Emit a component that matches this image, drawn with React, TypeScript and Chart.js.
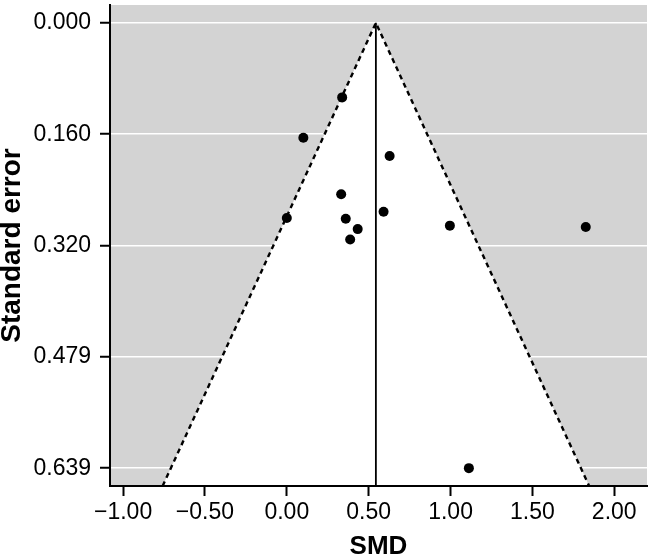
import React, { useEffect, useRef } from "react";
import { Chart, registerables } from "chart.js";

Chart.register(...registerables);

// Study data (standardised mean difference and its standard error)
const smd = [0.338, 0.101, 0.628, 0.332, 0.591, 0.0, 0.36, 0.433, 0.387, 0.996, 1.826, 1.112];
const se = [0.107, 0.165, 0.191, 0.246, 0.271, 0.28, 0.281, 0.296, 0.311, 0.291, 0.293, 0.639];

// Pooled estimate (vertical line) and funnel multiplier
const pooledSMD = 0.544;
const zCrit = 1.96;

// Axes
const xTicks = [-1, -0.5, 0, 0.5, 1, 1.5, 2];
const xTickLabels = ["\u22121.00", "\u22120.50", "0.00", "0.50", "1.00", "1.50", "2.00"];
const yTicks = [0, 0.15975, 0.3195, 0.47925, 0.639];
const yTickLabels = ["0.000", "0.160", "0.320", "0.479", "0.639"];
const xMin = -1.08;
const xMax = 2.2;
const yMin = -0.0256;
const yMax = 0.6646;

const FONT = "'Liberation Sans', Arial, Helvetica, sans-serif";

const bgPlugin = {
  id: "grayBg",
  beforeDraw(chart: any) {
    const { ctx, chartArea } = chart;
    if (!chartArea) return;
    const { left, top, right, bottom } = chartArea;
    ctx.save();
    ctx.fillStyle = "#d3d3d3";
    ctx.fillRect(left, top, right - left, bottom - top);
    ctx.restore();
  },
};

export default function App() {
  const canvasRef = useRef<HTMLCanvasElement | null>(null);

  useEffect(() => {
    const canvas = canvasRef.current;
    if (!canvas) return;

    const points = smd.map((x, i) => ({ x, y: se[i] }));
    const funnel = [
      { x: pooledSMD - zCrit * yMax, y: yMax },
      { x: pooledSMD, y: 0 },
      { x: pooledSMD + zCrit * yMax, y: yMax },
    ];
    const estLine = [
      { x: pooledSMD, y: 0 },
      { x: pooledSMD, y: yMax },
    ];

    const chart = new Chart(canvas, {
      type: "scatter",
      data: {
        datasets: [
          {
            label: "studies",
            data: points,
            backgroundColor: "#000",
            borderWidth: 0,
            pointRadius: 5,
            order: 0,
          },
          {
            label: "estimate",
            data: estLine,
            showLine: true,
            borderColor: "#000",
            borderWidth: 1.8,
            pointRadius: 0,
            order: 1,
          },
          {
            label: "funnel",
            data: funnel,
            showLine: true,
            borderColor: "#000",
            borderWidth: 2.4,
            borderDash: [5, 4],
            pointRadius: 0,
            fill: "start",
            backgroundColor: "#ffffff",
            tension: 0,
            order: 2,
          } as any,
        ],
      },
      options: {
        animation: false,
        responsive: true,
        maintainAspectRatio: false,
        layout: { padding: { top: -1, right: 2, left: 0, bottom: 0 } },
        plugins: {
          legend: { display: false },
          tooltip: { enabled: false },
        },
        scales: {
          x: {
            type: "linear",
            position: "bottom",
            min: xMin,
            max: xMax,
            afterBuildTicks: (s: any) => {
              s.ticks = xTicks.map((v) => ({ value: v }));
            },
            afterFit: (s: any) => {
              s.height = 71;
              s.paddingLeft = 0;
              s.paddingRight = 0;
            },
            ticks: {
              callback: (_v: any, i: number) => xTickLabels[i],
              color: "#000",
              font: { family: FONT, size: 23 },
              padding: 3,
              autoSkip: false,
              maxRotation: 0,
              minRotation: 0,
            },
            grid: {
              drawOnChartArea: false,
              drawTicks: true,
              tickLength: 10,
              tickColor: "#000",
              tickWidth: 2,
            },
            border: { display: true, color: "#000", width: 2, z: 1 },
            title: {
              display: true,
              text: "SMD",
              color: "#000",
              font: { family: FONT, size: 26, weight: "bold", lineHeight: 0.8 },
              padding: 0,
            },
          },
          y: {
            type: "linear",
            min: yMin,
            max: yMax,
            reverse: true,
            afterBuildTicks: (s: any) => {
              s.ticks = yTicks.map((v) => ({ value: v }));
            },
            afterFit: (s: any) => {
              s.width = 110;
              s.paddingTop = 0;
              s.paddingBottom = 0;
            },
            ticks: {
              callback: (_v: any, i: number) => yTickLabels[i],
              color: "#000",
              font: { family: FONT, size: 23 },
              padding: 9,
              autoSkip: false,
            },
            grid: {
              color: "#ffffff",
              lineWidth: 1.5,
              drawTicks: true,
              tickLength: 10,
              tickColor: "#000",
              tickWidth: 2,
            },
            border: { display: true, color: "#000", width: 2, z: 1 },
            title: {
              display: true,
              text: "Standard error",
              color: "#000",
              font: { family: FONT, size: 28, weight: "bold", lineHeight: 0.9 },
              padding: 0,
            },
          },
        },
      } as any,
      plugins: [bgPlugin],
    });

    return () => {
      chart.destroy();
    };
  }, []);

  return (
    <div style={{ position: "absolute", left: 0, top: 0, width: 652, height: 557 }}>
      <canvas ref={canvasRef} />
    </div>
  );
}
